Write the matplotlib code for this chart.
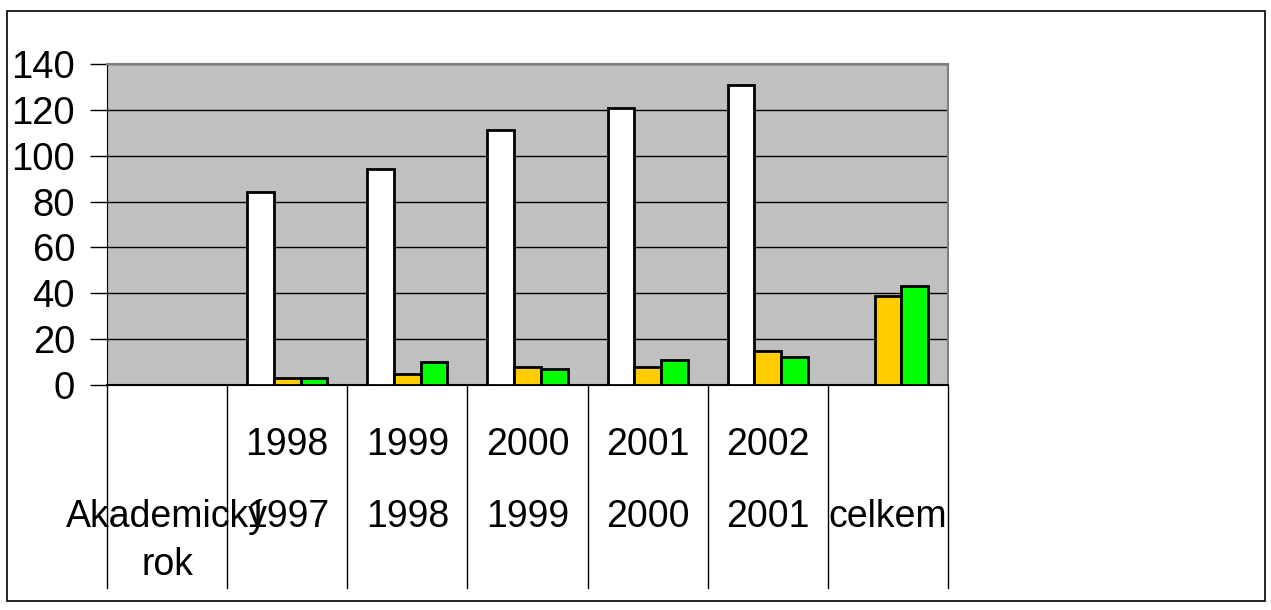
import numpy as np
import matplotlib.pyplot as plt
from matplotlib.patches import Rectangle
import matplotlib.transforms as mtransforms

plt.rcParams['font.family'] = ['Liberation Sans', 'DejaVu Sans']

# data
top_labels = ['', '1998', '1999', '2000', '2001', '2002', '']
bottom_labels = ['Akademický', '1997', '1998', '1999', '2000', '2001', 'celkem']
white_vals = [np.nan, 84, 94, 111, 121, 131, np.nan]
orange_vals = [np.nan, 3, 5, 8, 8, 15, 39]
green_vals = [np.nan, 3, 10, 7, 11, 12, 43]

W, H = 1271, 610
fig = plt.figure(figsize=(W / 100, H / 100), dpi=100)
fig.patches.append(Rectangle((7 / W, 1 - 601 / H), (1265 - 7) / W, (601 - 11) / H,
                             transform=fig.transFigure, fill=False,
                             edgecolor='black', linewidth=1.2))

ax = fig.add_axes([107 / W, 1 - 385 / H, 841 / W, 321 / H])
ax.set_facecolor('#C0C0C0')

x = np.arange(len(bottom_labels))
bw = 0.222
ax.bar(x - bw, white_vals, bw, color='white', edgecolor='black', linewidth=2, zorder=3)
ax.bar(x, orange_vals, bw, color='#FFCC00', edgecolor='black', linewidth=2, zorder=3)
ax.bar(x + bw, green_vals, bw, color='#00FF00', edgecolor='black', linewidth=2, zorder=3)

ax.set_xlim(-0.5, 6.5)
ax.set_ylim(0, 140)
ax.set_yticks(np.arange(0, 141, 20))
ax.tick_params(axis='y', labelsize=27.5, length=12, width=1, pad=11)
ax.tick_params(axis='x', bottom=False, labelbottom=False)
ax.yaxis.grid(True, color='black', linewidth=1)
ax.set_axisbelow(True)

for side in ['top', 'right']:
    ax.spines[side].set_color('#808080')
    ax.spines[side].set_linewidth(1.5)
ax.spines['left'].set_color('black')
ax.spines['bottom'].set_color('black')
ax.spines['bottom'].set_linewidth(1.5)

trans = mtransforms.blended_transform_factory(ax.transData, ax.transAxes)
for b in np.arange(-0.5, 7, 1):
    ax.plot([b, b], [0, -0.632], transform=trans, color='black', linewidth=1,
            clip_on=False)

for i in range(len(x)):
    ax.text(x[i], -0.187, top_labels[i], transform=trans, ha='center', va='center',
            fontsize=27)
    ax.text(x[i], -0.411, bottom_labels[i], transform=trans, ha='center', va='center',
            fontsize=27)
ax.text(x[0], -0.56, 'rok', transform=trans, ha='center', va='center', fontsize=27)

fig.savefig('out.png', dpi=100)
